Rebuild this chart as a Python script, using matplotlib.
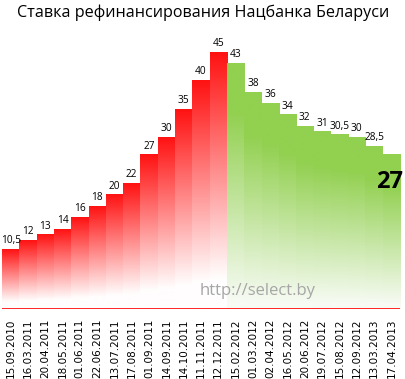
import matplotlib.pyplot as plt
import numpy as np

dates = ['15.09.2010', '16.03.2011', '20.04.2011', '18.05.2011', '01.06.2011',
         '22.06.2011', '13.07.2011', '17.08.2011', '01.09.2011', '14.09.2011',
         '14.10.2011', '11.11.2011', '12.12.2011', '15.02.2012', '01.03.2012',
         '02.04.2012', '16.05.2012', '20.06.2012', '19.07.2012', '15.08.2012',
         '12.09.2012', '13.03.2013', '17.04.2013']
rates = [10.5, 12, 13, 14, 16, 18, 20, 22, 27, 30, 35, 40, 45,
         43, 38, 36, 34, 32, 31, 30.5, 30, 28.5, 27]
peak = 12  # index of the maximum, bars after it are green

RED = np.array([255, 18, 18]) / 255
RED_END = np.array([255, 253, 253]) / 255
GREEN = np.array([146, 208, 80]) / 255
GREEN_END = np.array([247, 251, 244]) / 255


def gradient(top, bottom, hold, stop):
    t = np.linspace(0, 1, 200)
    f = np.clip((t - hold) / (stop - hold), 0, 1)
    cols = top[None, :] * (1 - f[:, None]) + bottom[None, :] * f[:, None]
    return cols[:, None, :]


fig = plt.figure(figsize=(4.06, 3.79), dpi=100)
ax = fig.add_axes([2 / 406, 70 / 379, 398 / 406, 285.5 / 379])

x = np.arange(len(rates))
for i, v in enumerate(rates):
    if i <= peak:
        img = gradient(RED, RED_END, 0.0, 0.88)
    else:
        img = gradient(GREEN, GREEN_END, 0.2, 0.97)
    ax.imshow(img, extent=(i - 0.5, i + 0.5, 0, v), aspect='auto',
              interpolation='bilinear', zorder=1)
    if i < len(rates) - 1:
        lab = ('%g' % v).replace('.', ',')
        ax.annotate(lab, (i, v), xytext=(0, 4.5), textcoords='offset points',
                    ha='center', va='baseline', fontsize=7.3,
                    family=['Open Sans', 'DejaVu Sans'], color='black')

fig.text(390 / 406, 1 - 182 / 379, '27', ha='center', va='center',
         fontsize=17, fontweight='bold', family=['Open Sans', 'DejaVu Sans'])

ax.text(14.3, 3.2, 'http://select.by', ha='center', va='center', fontsize=12,
        color='#a6a6a6', family=['Open Sans', 'DejaVu Sans'], zorder=3)

ax.axhline(0, color='red', lw=1.2, zorder=4)

ax.set_xlim(-0.5, len(rates) - 0.5)
ax.set_ylim(0, 50)
ax.set_xticks(x)
ax.set_xticklabels(dates, rotation=90, fontsize=7.5, family='DejaVu Sans')
ax.tick_params(axis='x', length=0, pad=7)
ax.set_yticks([])
for s in ax.spines.values():
    s.set_visible(False)

fig.text(0.5, 1 - 13 / 379, 'Ставка рефинансирования Нацбанка Беларуси',
         ha='center', va='center', fontsize=11.6,
         family=['Open Sans', 'DejaVu Sans'])

fig.savefig('out.png', dpi=100)
